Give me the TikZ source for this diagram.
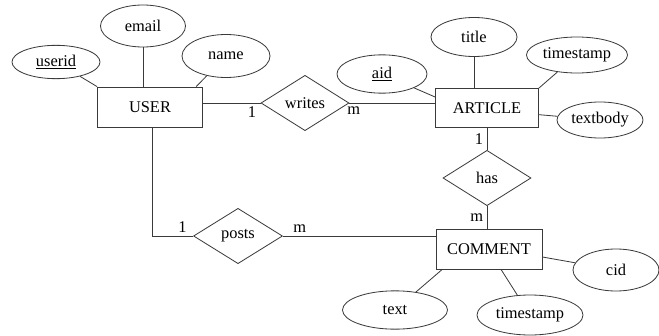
\documentclass[tikz,border=0pt]{standalone}
\usepackage{fontspec}
\setmainfont{Liberation Serif}
\newfontfamily\erfont{Liberation Serif}
\usetikzlibrary{shapes.geometric}
\definecolor{erLine}{HTML}{3A3A3A}

\begin{document}
\begin{tikzpicture}[x=0.03cm, y=-0.03cm, font=\erfont\fontsize{14}{16}\selectfont,
  ent/.style={draw=erLine,line width=0.7pt,minimum width=3.15cm,minimum height=1.2cm,inner sep=1pt},
  rel/.style={draw=erLine,line width=0.7pt,diamond,aspect=1.6,inner sep=0pt,minimum width=2.64cm,minimum height=1.66cm},
  attr/.style={draw=erLine,line width=0.7pt,ellipse,inner sep=0pt,minimum width=2.64cm,minimum height=1.15cm},
  lbl/.style={inner sep=3pt},
  con/.style={draw=erLine,line width=0.7pt}]
\useasboundingbox (0,0) rectangle (659,336);
% entities
\node[ent] (user) at (150,107) {USER};
\node[ent,minimum width=3.09cm,minimum height=1.17cm] (article) at (487,108) {ARTICLE};
\node[ent,minimum width=3.18cm] (comment) at (489,249) {COMMENT};
% relationships
\node[rel] (writes) at (305,103) {writes};
\node[rel] (has) at (487,178) {has};
\node[rel,minimum width=2.67cm] (posts) at (238,236) {posts};
% attributes
\node[attr,minimum height=1.0cm] (userid) at (56,62) {\underline{userid}};
\node[attr,minimum width=2.55cm,minimum height=1.26cm] (email) at (143,26) {email};
\node[attr,minimum height=1.29cm] (name) at (226,56) {name};
\node[attr,minimum width=2.7cm] (aid) at (382,74) {\underline{aid}};
\node[attr,minimum width=2.58cm,minimum height=1.17cm] (title) at (474,37) {title};
\node[attr,minimum width=3.03cm,minimum height=1.08cm] (artstamp) at (577,55) {timestamp};
\node[attr,minimum width=2.58cm,minimum height=1.08cm] (textbody) at (600,120) {textbody};
\node[attr,minimum width=3.15cm] (text) at (395,310) {text};
\node[attr,minimum width=3.18cm,minimum height=1.2cm] (comstamp) at (530,315) {timestamp};
\node[attr,minimum width=2.58cm,minimum height=1.26cm] (cid) at (616,270) {cid};
% attribute lines
\draw[con] (userid) -- (user.north west);
\draw[con] (email.south) -- (email.south |- user.north);
\draw[con] (name) -- ([xshift=-0.2cm]user.north east);
\draw[con] (aid) -- ([yshift=0.33cm]article.west);
\draw[con] (title.south) -- (title.south |- article.north);
\draw[con] (artstamp) -- (article.north east);
\draw[con] ([yshift=-0.2cm]article.east) -- (textbody);
\draw[con] (text) -- ([xshift=0.2cm]comment.south west);
\draw[con] (comstamp) -- ([xshift=0.36cm]comment.south);
\draw[con] ([yshift=-0.24cm]comment.east) -- (cid);
% relationship lines
\draw[con] (writes.west -| user.east) -- node[lbl,pos=0.85,below]{1} (writes.west);
\draw[con] (writes.east) -- node[lbl,pos=0.05,below]{m} (writes.east -| article.west);
\draw[con] (article.south) -- node[lbl,left]{1} (has.north);
\draw[con] (has.south) -- node[lbl,left]{m} (has.south |- comment.north);
\draw[con] ([xshift=0.06cm]user.south) |- node[lbl,pos=0.87,above]{1} (posts.west);
\draw[con] (posts.east) -- node[lbl,pos=0.11,above]{m} (posts.east -| comment.west);
\end{tikzpicture}
\end{document}
